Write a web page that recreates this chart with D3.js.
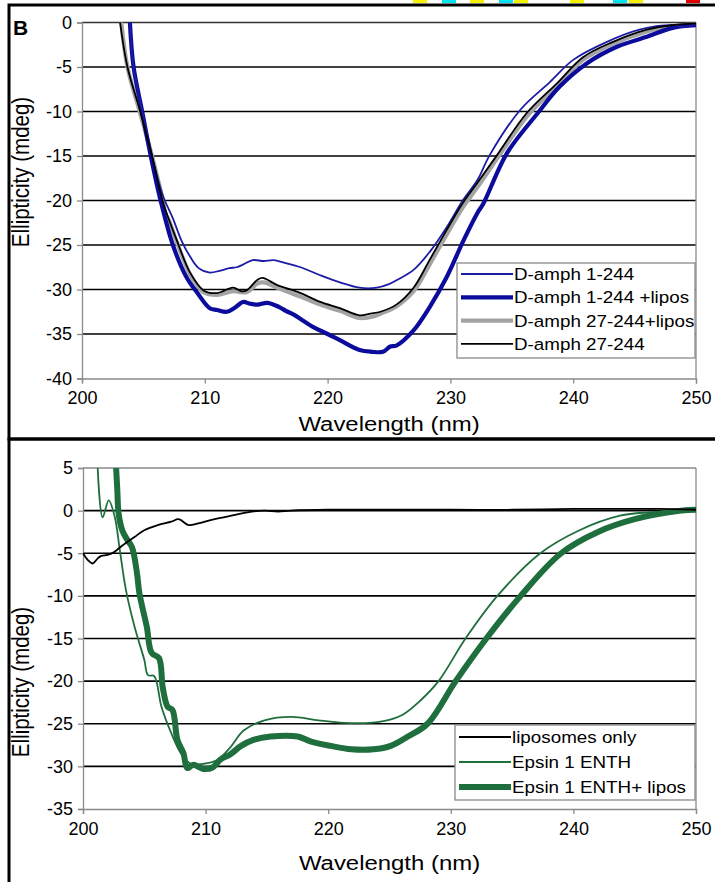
<!DOCTYPE html>
<html><head><meta charset="utf-8">
<script src="https://cdn.jsdelivr.net/npm/d3@7"></script>
<style>
body{margin:0;background:#fff}
svg{display:block}
text{font-family:"Liberation Sans",Arial,Helvetica,sans-serif;fill:#000}
</style></head>
<body>
<svg id="chart" width="715" height="882"></svg>
<script>
// ---------- DATA (wavelength nm, ellipticity mdeg) ----------
const topYTicks = [0,-5,-10,-15,-20,-25,-30,-35,-40];
const botYTicks = [5,0,-5,-10,-15,-20,-25,-30,-35];
const xTicks = [200,210,220,230,240,250];

const topLabels = ["D-amph 1-244","D-amph 1-244 +lipos","D-amph 27-244+lipos","D-amph 27-244"];
const botLabels = ["liposomes only","Epsin 1 ENTH","Epsin 1 ENTH+ lipos"];

const amph1 = [[203.9,0],[204.2,-5],[204.9,-10],[205.7,-15],[206.6,-19.5],[207.4,-22],[208.1,-24.5],[208.8,-26.3],[209.5,-27.6],[210.4,-28.1],[211.2,-27.9],[212.0,-27.6],[212.6,-27.5],[213.1,-27.2],[213.9,-26.7],[214.8,-26.8],[215.6,-26.7],[216.5,-27.0],[217.8,-27.5],[219.4,-28.4],[221.0,-29.2],[222.6,-29.8],[224.0,-29.8],[225.0,-29.4],[225.7,-28.9],[227.0,-27.8],[228.3,-25.8],[229.7,-23.0],[231.0,-20.0],[232.2,-17.7],[233.2,-14.9],[235.7,-9.8],[238.1,-6.7],[240.0,-4.2],[242.7,-2.2],[245.4,-0.8],[248.1,-0.3],[249.0,-0.5],[250,-0.2]];
const amph1Lipos = [[203.9,0],[204.2,-5],[204.9,-10],[205.6,-15],[206.4,-20],[207.4,-25],[208.5,-28.6],[209.4,-30.4],[210.4,-32.1],[211.0,-32.3],[211.8,-32.5],[212.5,-32.0],[213.1,-31.4],[213.7,-31.6],[214.3,-31.7],[215.1,-31.5],[216.1,-32.0],[216.6,-32.4],[217.2,-32.8],[218.8,-34.2],[220.0,-35.0],[221.0,-35.7],[222.6,-36.8],[223.6,-37.0],[224.5,-37.0],[225.1,-36.4],[225.6,-36.3],[227.0,-34.6],[228.3,-32.0],[229.7,-28.6],[231.1,-24.4],[232.2,-21.4],[232.7,-20.3],[234.6,-14.7],[237.1,-10.2],[238.9,-7.2],[241.1,-4.6],[243.6,-2.7],[246.0,-1.6],[248.1,-0.6],[250,-0.3]];
const amph27Lipos = [[203.2,0],[203.7,-5],[204.7,-10],[205.7,-15],[206.5,-19.5],[206.8,-21.5],[207.1,-22.3],[207.7,-24.6],[208.8,-28.3],[209.9,-30.3],[211.0,-30.6],[212.3,-30.2],[213.4,-30.3],[214.3,-29.3],[214.8,-29.2],[215.9,-29.8],[217.2,-30.5],[217.8,-30.8],[219.4,-31.7],[221.0,-32.4],[222.6,-33.2],[223.8,-33.0],[224.5,-32.6],[225.6,-31.9],[227.0,-30.2],[228.3,-27.2],[229.7,-23.8],[231.0,-20.8],[232.2,-18.5],[233.8,-15.3],[236.2,-10.6],[238.7,-7.1],[240.8,-4.2],[243.2,-2.4],[246.0,-1.0],[248.1,-0.4],[250,-0.2]];
const amph27 = [[203.1,0],[203.7,-5],[204.7,-9.8],[205.7,-15],[206.6,-20.2],[207.7,-24.4],[208.8,-28.1],[209.9,-30.1],[211.0,-30.4],[212.3,-29.8],[213.0,-30.2],[213.4,-30.1],[214.3,-28.9],[214.7,-28.7],[215.9,-29.5],[217.2,-30.1],[217.8,-30.4],[219.4,-31.4],[221.0,-32.1],[222.6,-32.9],[223.5,-32.7],[224.3,-32.5],[225.6,-31.7],[227.0,-29.8],[228.3,-26.7],[229.7,-23.3],[231.0,-20.3],[232.2,-18.0],[233.8,-14.9],[236.2,-10.2],[238.7,-6.8],[240.8,-3.9],[243.2,-2.2],[246.0,-0.8],[248.1,-0.3],[250,-0.1]];

const liposOnly = [[200.0,-5.0],[200.4,-5.8],[200.8,-6.2],[201.2,-5.6],[201.5,-5.3],[202.0,-5.2],[202.5,-4.9],[203.3,-4.0],[204.2,-3.1],[205.0,-2.3],[206.1,-1.7],[207.2,-1.3],[207.8,-1.0],[208.6,-1.7],[209.4,-1.5],[210.4,-1.1],[212.1,-0.6],[213.4,-0.2],[214.8,0.0],[215.9,-0.1],[217.0,0.0],[220,0.1],[225,0.1],[230,0.1],[235,0.1],[240,0.2],[245,0.2],[247,0.2],[250,0.1]];
const epsin = [[201.2,5],[201.6,-0.8],[202.1,1.2],[202.6,-0.8],[203.0,-4.6],[203.5,-9.3],[204.2,-13.6],[205.0,-17.5],[205.3,-19.3],[205.8,-19.4],[206.4,-23.0],[207.2,-26.1],[208.0,-28.5],[208.8,-29.7],[209.8,-29.7],[210.9,-29.3],[212.0,-27.8],[213.1,-25.8],[214.8,-24.6],[217.0,-24.2],[219.2,-24.6],[221.3,-24.9],[223.4,-24.9],[224.5,-24.7],[226.0,-24.0],[227.5,-22.3],[229.0,-20.0],[231.2,-15.0],[233.8,-10.0],[237.3,-5.0],[240.5,-2.3],[243.8,-0.6],[246.2,-0.2],[250,0]];
const epsinLipos = [[202.7,5],[202.8,2.4],[202.9,-0.3],[203.2,-2.3],[203.6,-3.4],[204.0,-4.3],[204.4,-7.3],[204.6,-9.7],[205.2,-13.6],[205.6,-16.7],[206.2,-17.3],[206.5,-20.7],[206.9,-23.0],[207.3,-23.4],[207.7,-26.9],[208.2,-28.5],[208.5,-30.2],[209.0,-29.8],[209.8,-30.3],[210.6,-30.1],[211.2,-29.2],[212.0,-28.6],[212.9,-27.6],[213.9,-26.9],[215.3,-26.5],[217.5,-26.5],[218.6,-27.1],[220.2,-27.6],[221.9,-28.0],[223.7,-28.0],[225.1,-27.6],[226.5,-26.5],[228.1,-25.0],[230.4,-20.0],[232.9,-15.0],[235.7,-10.0],[239.0,-5.0],[242,-2.5],[245,-1.0],[248.8,0],[250,0.1]];

// ---------- DRAW ----------
const svg = d3.select("#chart");
const SX = 1.14; // horizontal stretch of the original figure's lettering

// stray colour chips at the very top (crop remnants)
const chips = [[413,"#f5f000"],[442,"#00e5ee"],[470,"#f5f000"],[499,"#00e5ee"],[514,"#f5f000"],[570,"#f5f000"],[613,"#00e5ee"],[629,"#f5f000"],[686,"#e00000"]];
svg.selectAll("rect.chip").data(chips).join("rect").attr("class","chip")
  .attr("x",d=>d[0]).attr("y",0).attr("width",14).attr("height",3).attr("fill",d=>d[1]);

// panel frames
svg.append("rect").attr("x",9).attr("y",5).attr("width",720).attr("height",434)
  .attr("fill","none").attr("stroke","#000").attr("stroke-width",3);
svg.append("rect").attr("x",9).attr("y",439).attr("width",720).attr("height",460)
  .attr("fill","none").attr("stroke","#000").attr("stroke-width",3);

function panel(cfg){
  const g = svg.append("g");
  const x = d3.scaleLinear().domain([200,250]).range([cfg.x0,cfg.x1]);
  const y = d3.scaleLinear().domain(cfg.yDomain).range([cfg.y0,cfg.y1]);
  // gridlines
  g.append("g").selectAll("line").data(cfg.yTicks.filter(v=>v!==cfg.yDomain[0]))
    .join("line").attr("x1",cfg.x0).attr("x2",cfg.x1)
    .attr("y1",d=>y(d)).attr("y2",d=>y(d))
    .attr("stroke",d=>d===cfg.yDomain[1]?cfg.topColor:"#000").attr("stroke-width",1.6);
  g.append("line").attr("x1",cfg.x1).attr("x2",cfg.x1).attr("y1",cfg.y1).attr("y2",cfg.y0)
    .attr("stroke","#8a8a8a").attr("stroke-width",1.3);
  // axes
  const yAx = g.append("g").attr("transform",`translate(${cfg.x0},0)`)
    .call(d3.axisLeft(y).tickValues(cfg.yTicks).tickSize(5).tickPadding(5).tickFormat(d3.format("d")));
  const xAx = g.append("g").attr("transform",`translate(0,${cfg.y0})`)
    .call(d3.axisBottom(x).tickValues(xTicks).tickSize(5).tickPadding(8).tickFormat(d3.format("d")));
  [yAx,xAx].forEach(a=>{
    a.select(".domain").attr("stroke","#8a8a8a").attr("stroke-width",1.3);
    a.selectAll(".tick line").attr("stroke","#8a8a8a").attr("stroke-width",1.3);
    a.selectAll("text").attr("font-size",18).attr("font-family","Liberation Sans, Arial, sans-serif").attr("fill","#000");
  });
  yAx.selectAll("text").text(d=>d<0?"-"+Math.abs(d):d);
  // titles
  g.append("text").attr("transform",`translate(${(cfg.x0+cfg.x1)/2},${cfg.xTitleY}) scale(${SX},1)`)
    .attr("text-anchor","middle").attr("font-size",21).text("Wavelength (nm)");
  g.append("text").attr("transform",`translate(${cfg.yTitleX},${cfg.yTitleCY}) rotate(-90) scale(1,${SX})`)
    .attr("text-anchor","middle").attr("font-size",20.5).text("Ellipticity (mdeg)");
  // clip
  const id = "clip"+cfg.id;
  svg.append("clipPath").attr("id",id).append("rect")
    .attr("x",cfg.x0).attr("y",cfg.y1).attr("width",cfg.x1-cfg.x0).attr("height",cfg.y0-cfg.y1);
  const line = d3.line().x(d=>x(d[0])).y(d=>y(d[1])).curve(d3.curveCatmullRom.alpha(0.5));
  const lg = g.append("g").attr("clip-path",`url(#${id})`);
  cfg.series.forEach(s=>{
    lg.append("path").datum(s.data).attr("d",line).attr("fill","none")
      .attr("stroke",s.color).attr("stroke-width",s.w).attr("stroke-linejoin","round").attr("stroke-linecap","round");
  });
  // legend
  const L = cfg.legend;
  g.append("rect").attr("x",L.x).attr("y",L.y).attr("width",L.w).attr("height",L.h)
    .attr("fill","#fff").attr("stroke","#8a8a8a").attr("stroke-width",1.3);
  cfg.legendOrder.forEach((s,i)=>{
    const yy = L.y + L.first + i*L.step;
    g.append("line").attr("x1",L.x+4).attr("x2",L.x+56).attr("y1",yy).attr("y2",yy)
      .attr("stroke",s.color).attr("stroke-width",s.w);
    g.append("text").attr("transform",`translate(${L.x+57},${yy+6}) scale(${SX},1)`)
      .attr("font-size",16.5).text(s.label);
  });
}

const sTop = [
  {data:amph1, color:"#1c1ca6", w:1.8, label:topLabels[0]},
  {data:amph1Lipos, color:"#0c0c9c", w:4.2, label:topLabels[1]},
  {data:amph27Lipos, color:"#a3a3a3", w:4.2, label:topLabels[2]},
  {data:amph27, color:"#000", w:1.8, label:topLabels[3]}
];
panel({id:"t", x0:82, x1:696, y0:378.5, y1:22.5, yDomain:[-40,0], yTicks:topYTicks,
  topColor:"#333", xTitleY:431, yTitleX:29, yTitleCY:172,
  series:[sTop[2],sTop[1],sTop[0],sTop[3]], legendOrder:sTop,
  legend:{x:457,y:263,w:238,h:95,first:11,step:23.3}});

const sBot = [
  {data:liposOnly, color:"#000", w:1.8, label:botLabels[0]},
  {data:epsin, color:"#1f6e3d", w:1.8, label:botLabels[1]},
  {data:epsinLipos, color:"#1f6e3d", w:6, label:botLabels[2]}
];
panel({id:"b", x0:83, x1:696, y0:809, y1:468, yDomain:[-35,5], yTicks:botYTicks,
  topColor:"#8a8a8a", xTitleY:870, yTitleX:29, yTitleCY:682,
  series:[sBot[2],sBot[1],sBot[0]], legendOrder:sBot,
  legend:{x:455,y:725,w:240,h:75,first:12,step:25}});

// panel letter
svg.append("text").attr("x",13).attr("y",35).attr("font-size",21).attr("font-weight","bold").text("B");
</script>
</body></html>
